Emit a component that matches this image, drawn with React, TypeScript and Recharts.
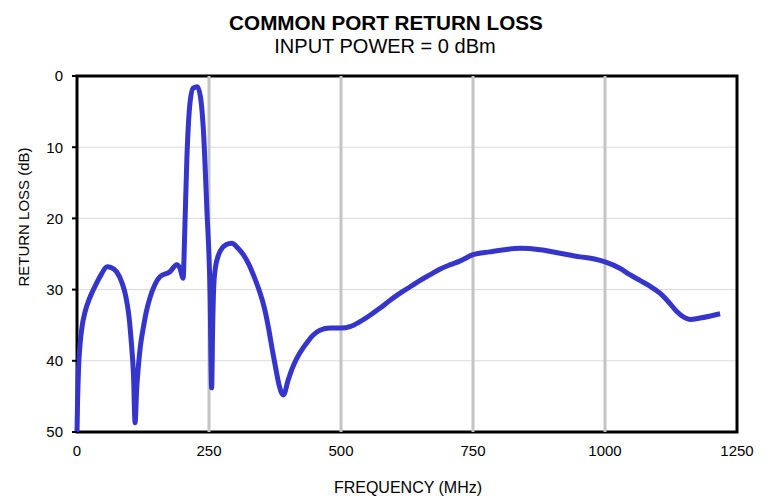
import { LineChart, Line, XAxis, YAxis, CartesianGrid, ReferenceLine, ReferenceArea } from 'recharts'

// frequency (MHz) and return loss (dB)
const freq = [
  0, 1, 3, 6, 10, 15, 25, 35, 45, 57, 65, 75, 85, 92, 98, 103, 107, 110, 113, 116, 120, 126, 131,
  138, 147, 157, 176, 189, 195, 201, 204, 208, 214, 220, 228, 234, 239, 246, 252, 255, 257, 259,
  262, 266, 272, 282, 293, 305, 315, 325, 335, 345, 355, 363, 370, 377, 383, 388, 391, 394, 398,
  404, 412, 422, 435, 447, 460, 479, 500, 517, 536, 555, 574, 593, 612, 631, 650, 669, 688, 707,
  725, 750, 782, 810, 839, 877, 915, 953, 980, 1000, 1028, 1047, 1066, 1085, 1104, 1120, 1135,
  1150, 1161, 1180, 1200, 1218,
]
const loss = [
  50, 46, 41, 37.5, 35, 33.2, 31, 29.4, 28, 26.8, 26.9, 27.5, 29, 30.8, 33.5, 37.5, 42, 48.7,
  44, 41, 38, 35.2, 33.2, 31.2, 29.4, 28.2, 27.5, 26.5, 27, 28.4, 22, 11.8, 3.8, 1.7, 1.5, 3,
  7.1, 18.8, 30.5, 43.8, 35, 29.5, 27, 25.6, 24.5, 23.7, 23.5, 24.2, 25.1, 26.4, 28.1, 30.1,
  32.6, 35.5, 38.5, 41.3, 43.5, 44.6, 44.8, 44.4, 43.2, 41.8, 40.3, 38.9, 37.5, 36.4, 35.7, 35.4,
  35.4, 35.2, 34.5, 33.6, 32.6, 31.5, 30.5, 29.6, 28.7, 27.9, 27.1, 26.5, 26, 25.1, 24.7, 24.4,
  24.2, 24.4, 24.9, 25.4, 25.7, 26.1, 27, 27.9, 28.7, 29.5, 30.5, 31.7, 33, 33.9, 34.2, 34, 33.7,
  33.4,
]
const xTicks = [0, 250, 500, 750, 1000, 1250]
const yTicks = [0, 10, 20, 30, 40, 50]

const data = freq.map((f, i) => ({ freq: f, loss: loss[i] }))

const font = 'Liberation Sans, Arial, Helvetica, sans-serif'

export default function App() {
  return (
    <div style={{ position: 'absolute', left: 0, top: 0, width: 770, height: 496, background: '#fff' }}>
      <LineChart
        width={770}
        height={496}
        data={data}
        margin={{ top: 76, right: 33, bottom: 0, left: 0 }}
        style={{ fontFamily: font }}
      >
        <CartesianGrid vertical={false} stroke="#d9d9d9" strokeWidth={1} />
        {xTicks.slice(1, -1).map((t) => (
          <ReferenceLine key={t} x={t} stroke="#c4c4c4" strokeWidth={3} />
        ))}
        <XAxis
          dataKey="freq"
          type="number"
          domain={[0, 1250]}
          ticks={xTicks}
          height={64}
          axisLine={false}
          tickLine={false}
          tickSize={0}
          tickMargin={13}
          tick={{ fill: '#000', fontSize: 15 }}
          label={() => (
            <text x={408} y={493} textAnchor="middle" fontSize={16} fill="#000" fontFamily={font}>
              FREQUENCY (MHz)
            </text>
          )}
        />
        <YAxis
          type="number"
          domain={[0, 50]}
          reversed
          ticks={yTicks}
          width={77}
          axisLine={false}
          tickLine={{ stroke: '#000', strokeWidth: 2 }}
          tickSize={5}
          tickMargin={9}
          tick={{ fill: '#000', fontSize: 15 }}
          label={() => (
            <text
              x={29}
              y={217}
              transform="rotate(-90 29 217)"
              textAnchor="middle"
              fontSize={15}
              fill="#000"
              fontFamily={font}
            >
              RETURN LOSS (dB)
            </text>
          )}
        />
        <Line
          type="monotone"
          dataKey="loss"
          stroke="#3535cc"
          strokeWidth={5}
          dot={false}
          isAnimationActive={false}
        />
        <ReferenceArea x1={0} x2={1250} y1={0} y2={50} fill="none" stroke="#000" strokeWidth={3} />
      </LineChart>
      <svg
        width={770}
        height={496}
        style={{ position: 'absolute', left: 0, top: 0, pointerEvents: 'none' }}
      >
        <text x={386} y={30} textAnchor="middle" fontSize={20.7} fontWeight="bold" fill="#000" fontFamily={font}>
          COMMON PORT RETURN LOSS
        </text>
        <text x={385} y={52.7} textAnchor="middle" fontSize={20} fill="#000" fontFamily={font}>
          INPUT POWER = 0 dBm
        </text>
      </svg>
    </div>
  )
}
